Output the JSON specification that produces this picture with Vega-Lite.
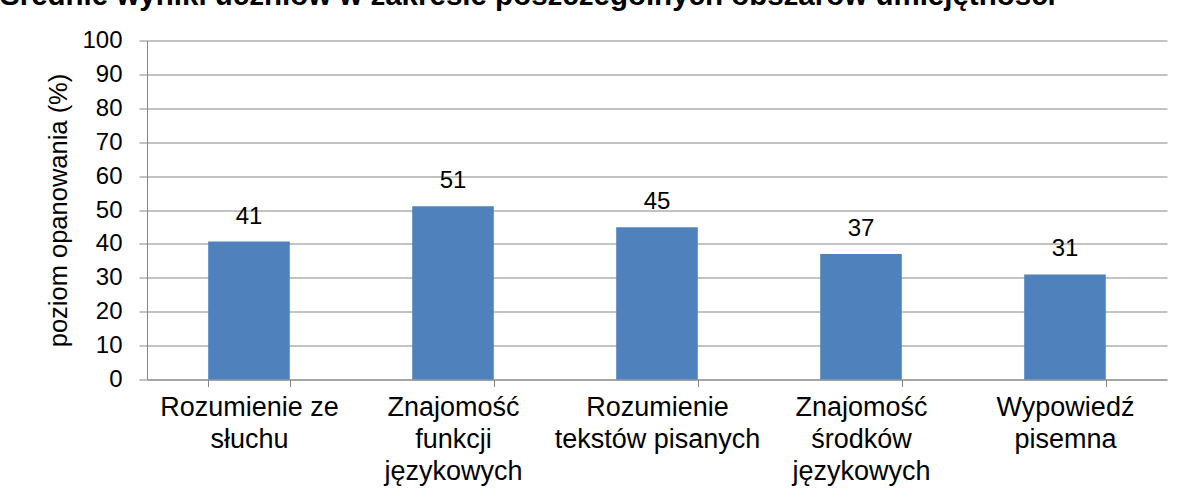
{
  "$schema": "https://vega.github.io/schema/vega-lite/v6.json",
  "width": 1020,
  "height": 339,
  "autosize": {"type": "none"},
  "padding": {"left": 147, "top": 40.5, "right": 16, "bottom": 113.5},
  "background": "white",
  "title": {
    "text": "Średnie wyniki uczniów w zakresie poszczególnych obszarów umiejętności",
    "anchor": "start",
    "frame": "group",
    "font": "Liberation Sans",
    "fontSize": 29.5,
    "fontWeight": "bold",
    "color": "black",
    "dx": -147,
    "offset": 17.5
  },
  "data": {
    "values": [
      {"obszar": "Rozumienie ze\nsłuchu", "wynik": 40.7},
      {"obszar": "Znajomość\nfunkcji\njęzykowych", "wynik": 51.1},
      {"obszar": "Rozumienie\ntekstów pisanych", "wynik": 44.9},
      {"obszar": "Znajomość\nśrodków\njęzykowych", "wynik": 37.0},
      {"obszar": "Wypowiedź\npisemna", "wynik": 31.0}
    ]
  },
  "config": {
    "view": {"stroke": null},
    "font": "Liberation Sans",
    "axis": {
      "labelFont": "Liberation Sans",
      "titleFont": "Liberation Sans",
      "labelColor": "black",
      "titleColor": "black",
      "labelFontSize": 24,
      "titleFontSize": 25.5,
      "titleFontWeight": "normal",
      "domainColor": "#868686",
      "tickColor": "#868686",
      "gridColor": "#868686",
      "gridOpacity": 1
    }
  },
  "encoding": {
    "x": {
      "field": "obszar",
      "type": "nominal",
      "sort": null,
      "scale": {"paddingInner": 0.6, "paddingOuter": 0.3},
      "axis": {
        "title": null,
        "labelAngle": 0,
        "labelExpr": "split(datum.label, '\\n')",
        "labelFontSize": 27,
        "labelLimit": 0,
        "labelLineHeight": 32,
        "labelPadding": 8,
        "tickSize": 7,
        "tickBand": "extent",
        "grid": false
      }
    },
    "y": {
      "field": "wynik",
      "type": "quantitative",
      "scale": {"domain": [0, 100]},
      "axis": {
        "title": "poziom opanowania  (%)",
        "values": [0, 10, 20, 30, 40, 50, 60, 70, 80, 90, 100],
        "tickSize": 8,
        "labelPadding": 17,
        "titlePadding": 10,
        "grid": true
      }
    }
  },
  "layer": [
    {"mark": {"type": "bar", "color": "#4F81BD"}},
    {
      "mark": {"type": "text", "baseline": "alphabetic", "dy": -18, "fontSize": 24, "color": "black"},
      "encoding": {"text": {"field": "wynik", "type": "quantitative", "format": ".0f"}}
    }
  ]
}
